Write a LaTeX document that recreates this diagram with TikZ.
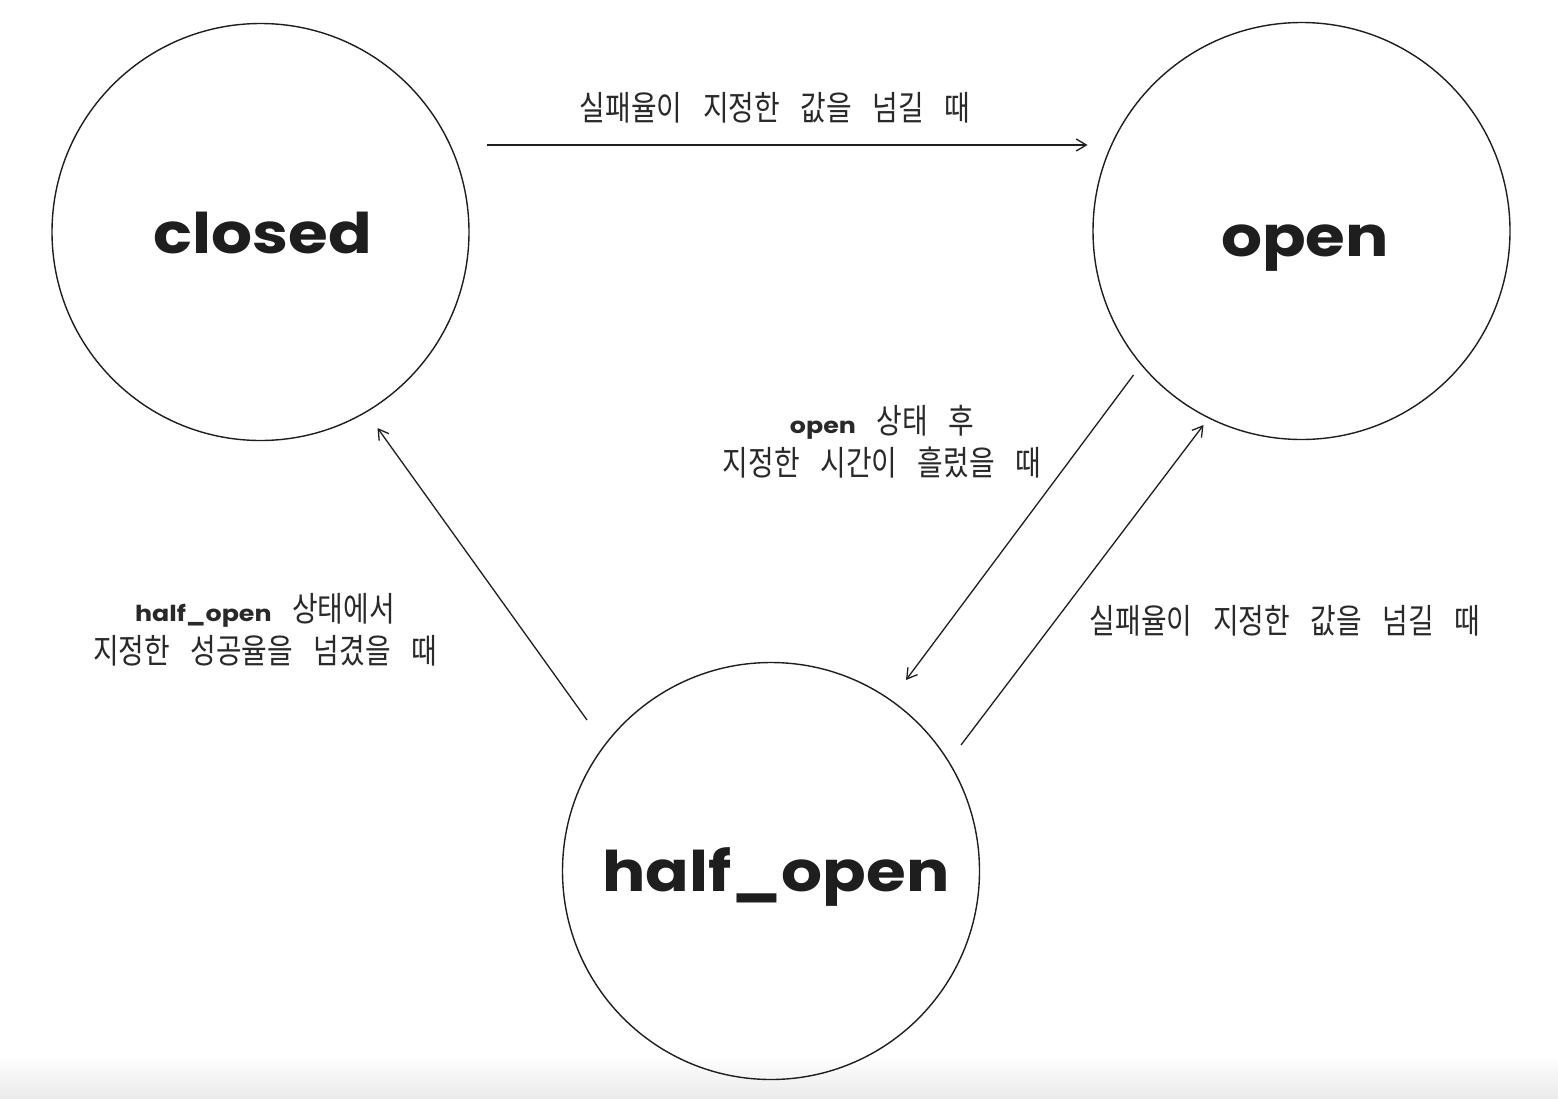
\documentclass[tikz,border=0pt]{standalone}
\usepackage{fontspec}
\usetikzlibrary{arrows.meta}
\newfontfamily\kr{Noto Sans CJK KR}[FakeStretch=0.82,WordSpace=3.3]
\newfontfamily\hand{Poppins}[FakeStretch=1.15]
\definecolor{ink}{HTML}{1E1E1E}
\tikzset{
  state/.style={circle, draw=ink, line width=1.4pt, minimum size=417pt, inner sep=0pt},
  statetext/.style={text=ink, font=\hand\fontsize{56}{60}\selectfont\bfseries},
  lbl/.style={text=ink!95, align=center, font=\kr\fontsize{34}{42}\selectfont, inner sep=0pt},
  conn/.style={draw=ink, line width=1.3pt, -{Straight Barb[length=10pt,width=12pt,line width=1.3pt]}},
}
\begin{document}
\begin{tikzpicture}[x=1pt,y=-1pt]
\useasboundingbox (0,0) rectangle (1558,1098);
\shade[top color=white, bottom color=black!8] (0,1055) rectangle (1558,1098);
\node[state] (closed) at (260.5,232) {};
\node[state] (open) at (1301.5,231) {};
\node[state] (half) at (771,871) {};
\node[statetext] (closedT) at (263,233) {closed};
\node[statetext] (openT) at (1305,248) {open};
\node[statetext] (halfT) at (776,877) {half\_open};

\draw[conn] ([shift={(226,-87)}]closed.center) -- ([shift={(-214,-86)}]open.center);
\draw[conn] ([shift={(-168,144)}]open.center) -- ([shift={(135,-191)}]half.center);
\draw[conn] ([shift={(190,-126)}]half.center) -- ([shift={(-98,194)}]open.center);
\draw[conn] ([shift={(-184,-151)}]half.center) -- ([shift={(117,196)}]closed.center);

\node[lbl] (l1) at (775,108) {실패율이 지정한 값을 넘길 때};
\node[lbl] (l2) at (882,442) {{\hand\bfseries\fontsize{22}{30}\selectfont open} 상태 후\\지정한 시간이 흘렀을 때};
\node[lbl] (l3) at (265,630) {{\hand\bfseries\fontsize{22}{30}\selectfont half\_open} 상태에서\\지정한 성공율을 넘겼을 때};
\node[lbl] (l4) at (1285,621) {실패율이 지정한 값을 넘길 때};
\end{tikzpicture}
\end{document}
